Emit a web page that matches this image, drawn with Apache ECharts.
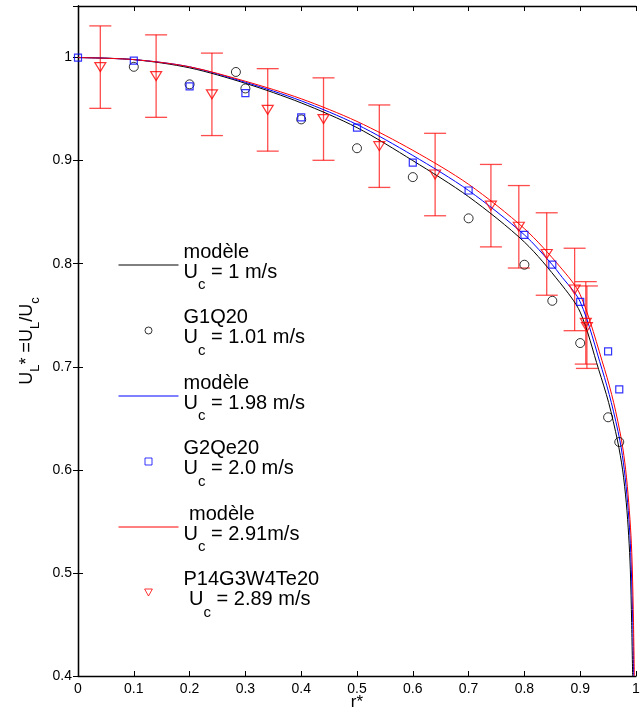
<!DOCTYPE html>
<html><head><meta charset="utf-8">
<script src="https://cdn.jsdelivr.net/npm/echarts@6/dist/echarts.min.js"></script>
<style>html,body{margin:0;padding:0;background:#fff}#c{width:644px;height:716px}</style>
</head><body><div id="c"></div>
<script>
// ---- model curves (r*, U_L*) ----
const modelR1 = [0, 0.1, 0.2, 0.3, 0.4, 0.5, 0.6, 0.7, 0.8, 0.8638, 0.9, 0.933, 0.951, 0.967, 0.976, 0.9826, 0.9869, 0.9898, 0.9922, 0.994];
const modelU1 = [1.0, 0.998, 0.990, 0.975, 0.956, 0.932, 0.900, 0.865, 0.821, 0.7815, 0.753, 0.6975, 0.6652, 0.628, 0.600, 0.568, 0.536, 0.5037, 0.452, 0.400];
const modelR2 = [0, 0.1, 0.2, 0.3, 0.4, 0.5, 0.6, 0.7, 0.8, 0.85, 0.8638, 0.9, 0.9391, 0.9558, 0.9713, 0.979, 0.985, 0.9892, 0.9916, 0.9942, 0.9958];
const modelU2 = [1.0, 0.998, 0.991, 0.976, 0.958, 0.935, 0.905, 0.871, 0.828, 0.799, 0.7895, 0.763, 0.6975, 0.6652, 0.628, 0.600, 0.568, 0.536, 0.5037, 0.452, 0.400];
const modelR3 = [0, 0.1, 0.2, 0.3, 0.4, 0.5, 0.6, 0.7, 0.8, 0.8638, 0.9, 0.9438, 0.960, 0.9743, 0.9815, 0.987, 0.991, 0.9934, 0.9955, 0.997];
const modelU3 = [1.0, 0.998, 0.991, 0.977, 0.960, 0.938, 0.910, 0.877, 0.834, 0.797, 0.770, 0.6975, 0.6652, 0.628, 0.600, 0.568, 0.536, 0.5037, 0.452, 0.400];

// ---- measurements ----
const g1qR = [0.1, 0.2, 0.283, 0.3, 0.4, 0.5, 0.6, 0.7, 0.8, 0.85, 0.9, 0.95, 0.97];
const g1qU = [0.991, 0.974, 0.986, 0.970, 0.940, 0.912, 0.884, 0.844, 0.799, 0.764, 0.723, 0.651, 0.627];
const g2qR = [0, 0.1, 0.2, 0.3, 0.4, 0.5, 0.6, 0.7, 0.8, 0.85, 0.9, 0.95, 0.97];
const g2qU = [1.0, 0.997, 0.972, 0.9655, 0.942, 0.932, 0.898, 0.871, 0.828, 0.799, 0.763, 0.715, 0.678];
const p14R = [0.04, 0.14, 0.24, 0.34, 0.44, 0.54, 0.64, 0.74, 0.79, 0.84, 0.89, 0.91, 0.912];
const p14U = [0.9907, 0.982, 0.9643, 0.9492, 0.9403, 0.914, 0.8865, 0.8563, 0.8358, 0.8094, 0.775, 0.7426, 0.7384];
const p14Err = [0.04, 0.04, 0.04, 0.04, 0.04, 0.04, 0.04, 0.04, 0.04, 0.04, 0.04, 0.04, 0.04];

// ---- axes ----
const xMin = 0, xMax = 1, xStep = 0.1;
const yMin = 0.4, yMax = 1.05, yStep = 0.1;

const names = ['m1', 'G1Q20', 'm2', 'G2Qe20', 'm3', 'P14G3W4Te20'];
const legendTexts = {
  m1: '{n|modèle}\n{n|U}{hs|c}{n| = 1 m/s}\n{h|U}{s|c}',
  G1Q20: '{n|G1Q20}\n{n|U}{hs|c}{n| = 1.01 m/s}\n{h|U}{s|c}',
  m2: '{n|modèle}\n{n|U}{hs|c}{n| = 1.98 m/s}\n{h|U}{s|c}',
  G2Qe20: '{n|G2Qe20}\n{n|U}{hs|c}{n| = 2.0 m/s}\n{h|U}{s|c}',
  m3: '{n| modèle}\n{n|U}{hs|c}{n| = 2.91m/s}\n{h|U}{s|c}',
  P14G3W4Te20: '{n|P14G3W4Te20}\n{n| U}{hs|c}{n| = 2.89 m/s}\n{h| U}{s|c}'
};
const yTitle = '{n|U}{hs|L}{n|* =U}{hs|L}{n|/U}{hs|c}\n{h|U}{s|L}{h|* =U}{s|L}{h|/U}{s|c}';

const zip = (a, b) => a.map((v, i) => [v, b[i]]);
const FONT = 'Liberation Sans, Arial, Helvetica, sans-serif';
const tri = 'path://M0,0L10,0L5,9Z';
const sq = 'path://M0,0L10,0L10,10L0,10Z';
const hidden = 'rgba(0,0,0,0)';

const chart = echarts.init(document.getElementById('c'), null, {renderer: 'canvas'});
const axisCommon = {
  axisLine: {show: true, lineStyle: {color: '#000', width: 1.3}},
  axisTick: {show: true, inside: true, length: 5, lineStyle: {color: '#000', width: 1}},
  splitLine: {show: false}
};
chart.setOption({
  animation: false,
  backgroundColor: '#fff',
  grid: {left: 78, right: 8, top: 6, bottom: 39, containLabel: false},
  xAxis: [
    Object.assign({type: 'value', min: xMin, max: xMax, interval: xStep, position: 'bottom',
      name: 'r*', nameLocation: 'middle', nameGap: 18, nameMoveOverlap: false,
      nameTextStyle: {fontFamily: FONT, fontSize: 17, color: '#000', verticalAlign: 'top'},
      axisLabel: {fontFamily: FONT, fontSize: 14, color: '#000', margin: 6}}, axisCommon),
    Object.assign({type: 'value', min: xMin, max: xMax, interval: xStep, position: 'top',
      axisLabel: {show: false}}, axisCommon)
  ],
  yAxis: [
    Object.assign({type: 'value', min: yMin, max: yMax, interval: yStep, position: 'left',
      name: yTitle, nameLocation: 'middle', nameRotate: 90, nameGap: 42,
      nameMoveOverlap: false,
      nameTextStyle: {fontFamily: FONT, color: '#000', rich: {
        n: {fontFamily: FONT, fontSize: 18, lineHeight: 16, color: '#000'},
        hs: {fontFamily: FONT, fontSize: 13, lineHeight: 16, color: hidden},
        h: {fontFamily: FONT, fontSize: 18, lineHeight: 1, color: hidden},
        s: {fontFamily: FONT, fontSize: 13, lineHeight: 1, color: '#000'}
      }},
      axisLabel: {fontFamily: FONT, fontSize: 14, color: '#000', margin: 6,
        formatter: v => (Math.abs(v * 10 - Math.round(v * 10)) < 1e-6 ? String(+v.toFixed(1)) : '')}}, axisCommon),
    Object.assign({type: 'value', min: yMin, max: yMax, interval: yStep, position: 'right',
      axisLabel: {show: false}}, axisCommon)
  ],
  legend: {
    orient: 'vertical', left: 118, top: 242, padding: 0,
    itemWidth: 60, itemHeight: 7, itemGap: 12.5, selectedMode: false,
    symbolKeepAspect: true,
    data: names.map(n => n.charAt(0) === 'm'
      ? {name: n, itemStyle: {opacity: 0}}
      : {name: n}),
    formatter: n => legendTexts[n],
    itemStyle: {borderWidth: 1},
    lineStyle: {width: 1},
    textStyle: {fontFamily: FONT, fontSize: 20, color: '#000', rich: {
      n: {fontFamily: FONT, fontSize: 20, lineHeight: 20, color: '#000'},
      hs: {fontFamily: FONT, fontSize: 15, lineHeight: 20, color: hidden},
      h: {fontFamily: FONT, fontSize: 20, lineHeight: 6, color: hidden},
      s: {fontFamily: FONT, fontSize: 15, lineHeight: 6, color: '#000'}
    }}
  },
  series: [
    {
      type: 'custom', name: 'err', silent: true, z: 1,
      data: p14R.map((r, i) => [r, p14U[i] - p14Err[i], p14U[i] + p14Err[i]]),
      encode: {x: 0, y: [1, 2]},
      renderItem: (params, api) => {
        const x = api.value(0), lo = api.value(1), hi = api.value(2);
        const a = api.coord([x, lo]), b = api.coord([x, hi]);
        const hw = 11;
        const style = {stroke: 'rgba(255,0,0,0.7)', lineWidth: 1.3};
        return {type: 'group', children: [
          {type: 'line', shape: {x1: a[0], y1: a[1], x2: b[0], y2: b[1]}, style},
          {type: 'line', shape: {x1: a[0] - hw, y1: a[1], x2: a[0] + hw, y2: a[1]}, style},
          {type: 'line', shape: {x1: b[0] - hw, y1: b[1], x2: b[0] + hw, y2: b[1]}, style}
        ]};
      }
    },
    {type: 'line', name: 'm1', data: zip(modelR1, modelU1), symbol: 'none', smooth: 0.3, z: 2,
      lineStyle: {color: '#000', width: 1}, itemStyle: {color: '#000'}},
    {type: 'line', name: 'm2', data: zip(modelR2, modelU2), symbol: 'none', smooth: 0.3, z: 2,
      lineStyle: {color: '#0000ff', width: 1}, itemStyle: {color: '#0000ff'}},
    {type: 'line', name: 'm3', data: zip(modelR3, modelU3), symbol: 'none', smooth: 0.3, z: 2,
      lineStyle: {color: '#ff0000', width: 1}, itemStyle: {color: '#ff0000'}},
    {type: 'scatter', name: 'G1Q20', data: zip(g1qR, g1qU), symbol: 'circle', symbolSize: 9, z: 3,
      itemStyle: {color: hidden, borderColor: '#000', borderWidth: 1}},
    {type: 'scatter', name: 'G2Qe20', data: zip(g2qR, g2qU), symbol: sq, symbolSize: 7,
      symbolKeepAspect: true, z: 3,
      itemStyle: {color: hidden, borderColor: '#0000ff', borderWidth: 1.2}},
    {type: 'scatter', name: 'P14G3W4Te20', data: zip(p14R, p14U), symbol: tri, symbolSize: [11, 10],
      symbolKeepAspect: true, z: 3,
      itemStyle: {color: hidden, borderColor: '#ff0000', borderWidth: 1.2}}
  ]
});
</script>
</body></html>
